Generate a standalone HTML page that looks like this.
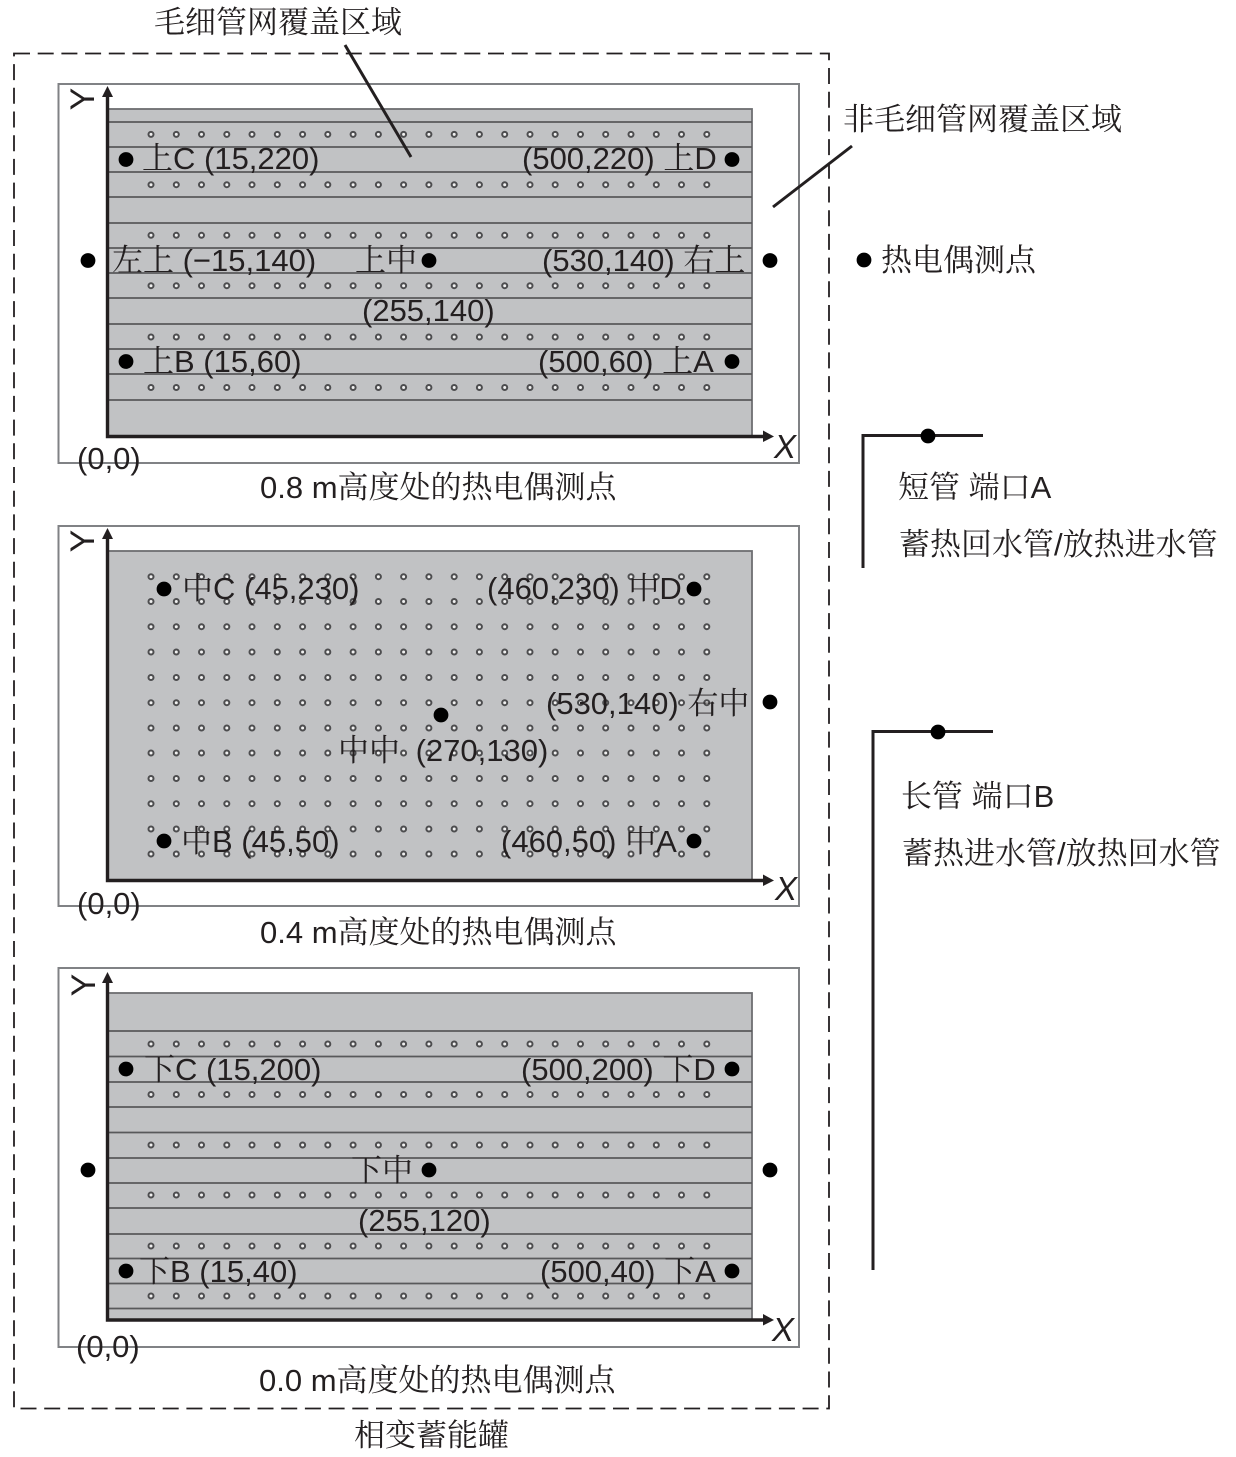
<!DOCTYPE html>
<html lang="zh">
<head>
<meta charset="utf-8">
<title>热电偶测点布置图</title>
<style>
html,body{margin:0;padding:0;background:#fff;}
svg{display:block;}
text{font-family:"Liberation Sans","Noto Serif CJK SC","Noto Sans CJK SC",sans-serif;font-size:31px;fill:#231f20;}
.i{font-style:italic;font-size:33px;}
.y{font-size:34px;}
.pn{fill:#fff;stroke:#808285;stroke-width:2;}
.gr{fill:#c1c2c4;stroke:#6d6e71;stroke-width:1.8;}
.l{stroke:#58595b;stroke-width:1.8;}
.ax{stroke:#231f20;stroke-width:3.4;fill:none;}
.ld{stroke:#231f20;stroke-width:3;fill:none;}
.h{fill:#231f20;}
.d{fill:#000;}
.rg circle{r:2.5px;fill:#f1f1f1;stroke:#4d4d4f;stroke-width:2;}
</style>
</head>
<body>
<svg xmlns="http://www.w3.org/2000/svg" width="1236" height="1457" viewBox="0 0 1236 1457">
<defs>
<g id="row" class="rg">
<circle cx="151" cy="0"/><circle cx="176.3" cy="0"/><circle cx="201.5" cy="0"/><circle cx="226.8" cy="0"/><circle cx="252" cy="0"/><circle cx="277.3" cy="0"/><circle cx="302.6" cy="0"/><circle cx="327.8" cy="0"/><circle cx="353.1" cy="0"/><circle cx="378.4" cy="0"/><circle cx="403.6" cy="0"/><circle cx="428.9" cy="0"/><circle cx="454.2" cy="0"/><circle cx="479.4" cy="0"/><circle cx="504.7" cy="0"/><circle cx="530" cy="0"/><circle cx="555.2" cy="0"/><circle cx="580.5" cy="0"/><circle cx="605.7" cy="0"/><circle cx="631" cy="0"/><circle cx="656.3" cy="0"/><circle cx="681.5" cy="0"/><circle cx="706.8" cy="0"/>
</g>
</defs>

<rect x="14" y="53.5" width="815" height="1355" fill="none" stroke="#231f20" stroke-width="1.8" stroke-dasharray="16 7.7"/>

<!-- Panel 1 -->
<rect class="pn" x="58.5" y="84" width="740.5" height="379"/>
<rect class="gr" x="108" y="109" width="644" height="327"/>
<g class="l">
<line x1="108" x2="752" y1="122" y2="122"/><line x1="108" x2="752" y1="147" y2="147"/><line x1="108" x2="752" y1="172" y2="172"/><line x1="108" x2="752" y1="197" y2="197"/><line x1="108" x2="752" y1="223" y2="223"/><line x1="108" x2="752" y1="248" y2="248"/><line x1="108" x2="752" y1="273" y2="273"/><line x1="108" x2="752" y1="298" y2="298"/><line x1="108" x2="752" y1="324" y2="324"/><line x1="108" x2="752" y1="349" y2="349"/><line x1="108" x2="752" y1="374" y2="374"/><line x1="108" x2="752" y1="400" y2="400"/>
</g>
<use href="#row" y="134.4"/><use href="#row" y="184.7"/><use href="#row" y="235.3"/><use href="#row" y="285.7"/><use href="#row" y="337"/><use href="#row" y="387.5"/>
<path class="ax" d="M107.5 95V436.5H763"/>
<path class="h" d="M102 97L107.5 86L113 97Z"/>
<path class="h" d="M763 430.5L774 436.5L763 442Z"/>
<g class="d">
<circle cx="126" cy="159.5" r="7.4"/><circle cx="732" cy="159.5" r="7.4"/><circle cx="88" cy="260.5" r="7.4"/><circle cx="429" cy="260.5" r="7.4"/><circle cx="770" cy="260.5" r="7.4"/><circle cx="126" cy="361.5" r="7.4"/><circle cx="732" cy="361.5" r="7.4"/>
</g>
<text x="142" y="169">上C (15,220)</text>
<text x="522" y="169">(500,220) 上D</text>
<text x="112" y="271">左上 (−15,140)</text>
<text x="355" y="271">上中</text>
<text x="542" y="271">(530,140) 右上</text>
<text x="362" y="321">(255,140)</text>
<text x="143" y="372">上B (15,60)</text>
<text x="538" y="372">(500,60) 上A</text>
<text x="77" y="469">(0,0)</text>
<text x="260" y="498">0.8 m高度处的热电偶测点</text>
<text class="y" transform="translate(94,99) rotate(-90)" text-anchor="middle">Y</text>
<text class="i" x="774" y="458">X</text>

<!-- Panel 2 -->
<rect class="pn" x="58.5" y="526" width="740.5" height="380"/>
<rect class="gr" x="108" y="551" width="644" height="329"/>
<use href="#row" y="576.7"/><use href="#row" y="601.5"/><use href="#row" y="626.7"/><use href="#row" y="652"/><use href="#row" y="677.5"/><use href="#row" y="702.7"/><use href="#row" y="728"/><use href="#row" y="753"/><use href="#row" y="778.5"/><use href="#row" y="803.7"/><use href="#row" y="829"/><use href="#row" y="854"/>
<path class="ax" d="M107.5 537V880.5H763"/>
<path class="h" d="M102 539L107.5 528L113 539Z"/>
<path class="h" d="M763 874.5L774 880.5L763 886Z"/>
<g class="d">
<circle cx="164" cy="589" r="7.4"/><circle cx="694" cy="589" r="7.4"/><circle cx="441" cy="715" r="7.4"/><circle cx="770" cy="702" r="7.4"/><circle cx="164" cy="841" r="7.4"/><circle cx="694" cy="841" r="7.4"/>
</g>
<text x="182" y="599">中C (45,230)</text>
<text x="487" y="599">(460,230) 中D</text>
<text x="546" y="714">(530,140) 右中</text>
<text x="338" y="761">中中<tspan dx="7"> (270,130)</tspan></text>
<text x="181" y="852">中B (45,50)</text>
<text x="501" y="852">(460,50) 中A</text>
<text x="77" y="914">(0,0)</text>
<text x="260" y="943">0.4 m高度处的热电偶测点</text>
<text class="y" transform="translate(94,541) rotate(-90)" text-anchor="middle">Y</text>
<text class="i" x="775" y="900">X</text>

<!-- Panel 3 -->
<rect class="pn" x="58.5" y="968" width="740.5" height="379"/>
<rect class="gr" x="108" y="993" width="644" height="327"/>
<g class="l">
<line x1="108" x2="752" y1="1031" y2="1031"/><line x1="108" x2="752" y1="1056.5" y2="1056.5"/><line x1="108" x2="752" y1="1082" y2="1082"/><line x1="108" x2="752" y1="1107" y2="1107"/><line x1="108" x2="752" y1="1132.5" y2="1132.5"/><line x1="108" x2="752" y1="1158" y2="1158"/><line x1="108" x2="752" y1="1183" y2="1183"/><line x1="108" x2="752" y1="1208" y2="1208"/><line x1="108" x2="752" y1="1234" y2="1234"/><line x1="108" x2="752" y1="1258.5" y2="1258.5"/><line x1="108" x2="752" y1="1283.5" y2="1283.5"/><line x1="108" x2="752" y1="1308.5" y2="1308.5"/>
</g>
<use href="#row" y="1044"/><use href="#row" y="1094.5"/><use href="#row" y="1145"/><use href="#row" y="1195"/><use href="#row" y="1246"/><use href="#row" y="1296"/>
<path class="ax" d="M107.5 981V1320H763"/>
<path class="h" d="M102 983L107.5 972L113 983Z"/>
<path class="h" d="M763 1314L774 1320L763 1325.5Z"/>
<g class="d">
<circle cx="126" cy="1069" r="7.4"/><circle cx="732" cy="1069" r="7.4"/><circle cx="88" cy="1170" r="7.4"/><circle cx="429" cy="1170" r="7.4"/><circle cx="770" cy="1170" r="7.4"/><circle cx="126" cy="1271" r="7.4"/><circle cx="732" cy="1271" r="7.4"/>
</g>
<text x="144" y="1080">下C (15,200)</text>
<text x="521" y="1080">(500,200) 下D</text>
<text x="351" y="1181">下中</text>
<text x="358" y="1231">(255,120)</text>
<text x="139" y="1282">下B (15,40)</text>
<text x="540" y="1282">(500,40) 下A</text>
<text x="76" y="1357">(0,0)</text>
<text x="259" y="1391">0.0 m高度处的热电偶测点</text>
<text class="y" transform="translate(95,985) rotate(-90)" text-anchor="middle">Y</text>
<text class="i" x="772" y="1341">X</text>

<!-- Leaders and outer labels -->
<line class="ld" x1="345" y1="45" x2="411" y2="157"/>
<line class="ld" x1="773" y1="207" x2="852" y2="146"/>
<text x="154" y="33">毛细管网覆盖区域</text>
<text x="843" y="130">非毛细管网覆盖区域</text>
<text x="354" y="1446">相变蓄能罐</text>
<circle class="d" cx="864" cy="260" r="7.4"/>
<text x="881" y="271">热电偶测点</text>

<!-- Port A -->
<path class="ld" d="M863 568V435.5H983"/>
<circle class="d" cx="928" cy="436" r="7.4"/>
<text x="898" y="498">短管 端口A</text>
<text x="899" y="555">蓄热回水管/放热进水管</text>

<!-- Port B -->
<path class="ld" d="M873 1270V731.5H993"/>
<circle class="d" cx="938" cy="732" r="7.4"/>
<text x="901" y="807">长管 端口B</text>
<text x="902" y="864">蓄热进水管/放热回水管</text>
</svg>
</body>
</html>
